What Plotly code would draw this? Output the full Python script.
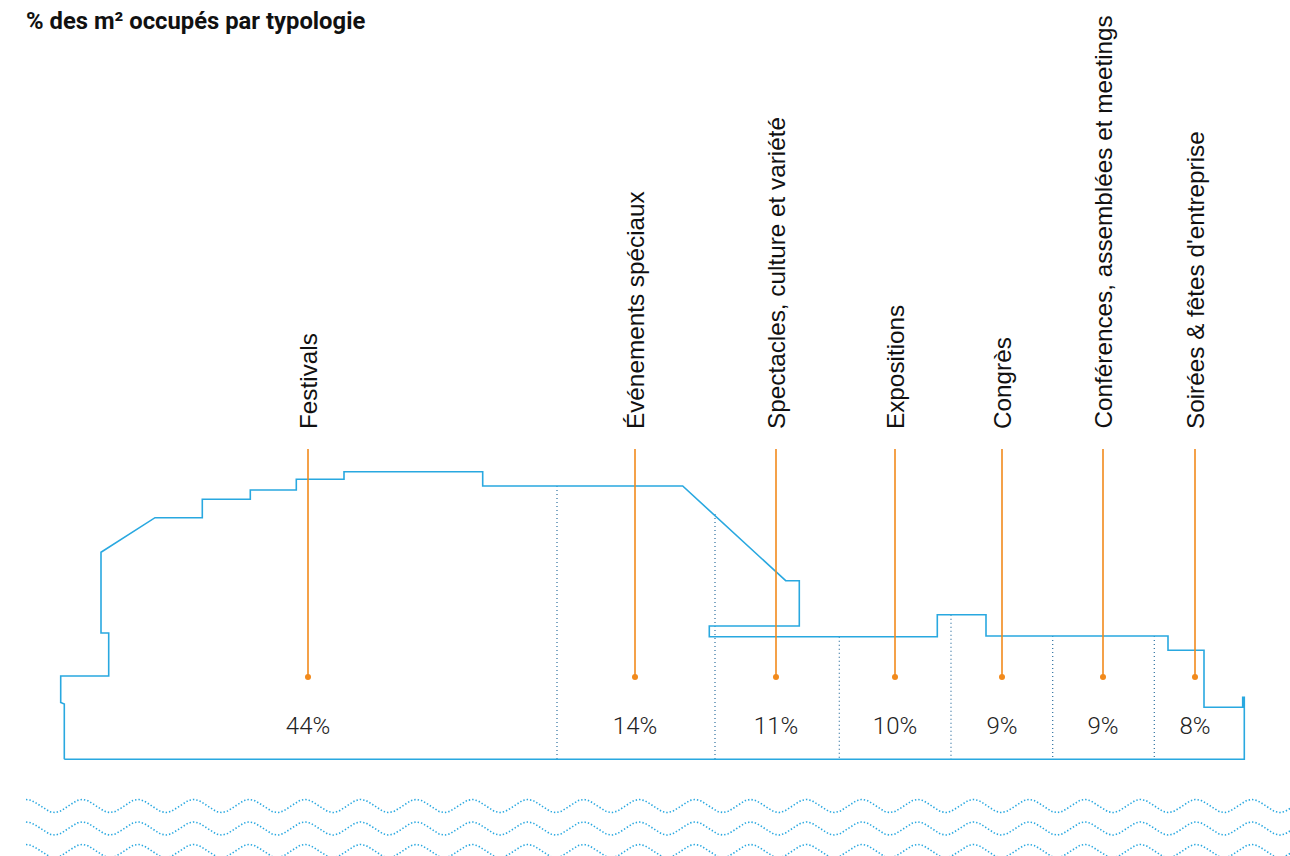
import numpy as np
import plotly.graph_objects as go

# ---------------- data ----------------
title = "% des m² occupés par typologie"
categories = ["Festivals", "Événements spéciaux", "Spectacles, culture et variété",
              "Expositions", "Congrès", "Conférences, assemblées et meetings",
              "Soirées & fêtes d'entreprise"]
percent_values = [44, 14, 11, 10, 9, 9, 8]
# horizontal position (canvas units) of each category marker
category_x = [308, 635, 776, 895, 1002, 1103, 1195]

# building silhouette outline (canvas units, y downward)
outline_x = [64.3, 64.3, 60.7, 60.7, 108.7, 108.7, 101, 101, 155, 202.3, 202.3, 250.3,
             250.3, 296.3, 296.3, 344, 344, 482.7, 482.7, 682.7, 785.7, 799.3, 799.3,
             709.3, 709.3, 937.3, 937.3, 986, 986, 1168, 1168, 1204, 1204, 1242.7,
             1242.7, 1244.3, 1244.3, 64.3]
outline_y = [759.3, 704, 702.5, 676, 676, 633, 633, 552.3, 517.7, 517.7, 499.3, 499.3,
             490, 490, 479.3, 479.3, 471.7, 471.7, 486, 486, 580.7, 580.7, 626,
             626, 636.7, 636.7, 614.7, 614.7, 636, 636, 650.3, 650.3, 707.3, 707.3,
             697.3, 697.3, 759.3, 759.3]

# dotted dividers between categories
divider_x = [557, 715, 839.3, 951, 1052.7, 1154.3]
divider_top = [486, 514, 636.7, 614.7, 636, 636]
divider_bottom = 759.3

# ---------------- styling constants ----------------
W, H = 1290, 856
BLUE = "#29a8e0"
DARK_BLUE = "#2a6e9e"
ORANGE = "#f28a1c"
TEXT = "#222222"
pin_top, pin_bottom = 449, 677
label_base_y = 431
pct_y = 728

fig = go.Figure()

# waves (decorative)
wave_x = np.linspace(26, 1292, 1400)
for cy in [806, 828.5, 851]:
    wy = cy - 6.5 * np.cos(2 * np.pi * (wave_x - 26.5) / 55.7)
    fig.add_trace(go.Scatter(x=wave_x, y=wy, mode="lines",
                             line=dict(color=BLUE, width=1.6, dash="1.4px,2px"),
                             hoverinfo="skip", showlegend=False))

# dividers
dx, dy = [], []
for x, t in zip(divider_x, divider_top):
    dx += [x, x, None]
    dy += [t, divider_bottom, None]
fig.add_trace(go.Scatter(x=dx, y=dy, mode="lines",
                         line=dict(color=DARK_BLUE, width=1.2, dash="1px,3px"),
                         hoverinfo="skip", showlegend=False))

# outline
fig.add_trace(go.Scatter(x=outline_x, y=outline_y, mode="lines",
                         line=dict(color=BLUE, width=1.6),
                         hoverinfo="skip", showlegend=False))

# orange pins
px, py = [], []
for x in category_x:
    px += [x, x, None]
    py += [pin_top, pin_bottom, None]
fig.add_trace(go.Scatter(x=px, y=py, mode="lines",
                         line=dict(color=ORANGE, width=1.6),
                         hoverinfo="skip", showlegend=False))
fig.add_trace(go.Scatter(x=category_x, y=[pin_bottom] * len(category_x), mode="markers",
                         marker=dict(color=ORANGE, size=6),
                         hoverinfo="skip", showlegend=False))

# percentage texts
fig.add_trace(go.Scatter(x=category_x, y=[pct_y] * len(category_x), mode="text",
                         text=[f"{v}%" for v in percent_values],
                         textfont=dict(family="Roboto", size=24, color=TEXT, weight=300),
                         textposition="middle center",
                         hoverinfo="skip", showlegend=False))

# rotated category labels
for x, c in zip(category_x, categories):
    fig.add_annotation(x=x, y=label_base_y, xref="x", yref="y", text=c,
                       textangle=-90, showarrow=False, xanchor="center", yanchor="bottom",
                       font=dict(family="Liberation Sans, Arial", size=24.3, color="#111111"))

# title
fig.add_annotation(x=24 / W, y=1 - 21 / H, xref="paper", yref="paper", text=title,
                   showarrow=False, xanchor="left", yanchor="middle",
                   font=dict(family="Roboto", size=23.8, color="#111111", weight=700))

fig.update_layout(
    width=W, height=H, margin=dict(l=0, r=0, t=0, b=0),
    paper_bgcolor="white", plot_bgcolor="white",
    xaxis=dict(range=[0, W], visible=False, fixedrange=True),
    yaxis=dict(range=[H, 0], visible=False, fixedrange=True),
    showlegend=False,
)

fig.write_html("out.html", config={"displayModeBar": False},
               post_script="document.body.style.margin='0';document.body.style.overflow='hidden';")
